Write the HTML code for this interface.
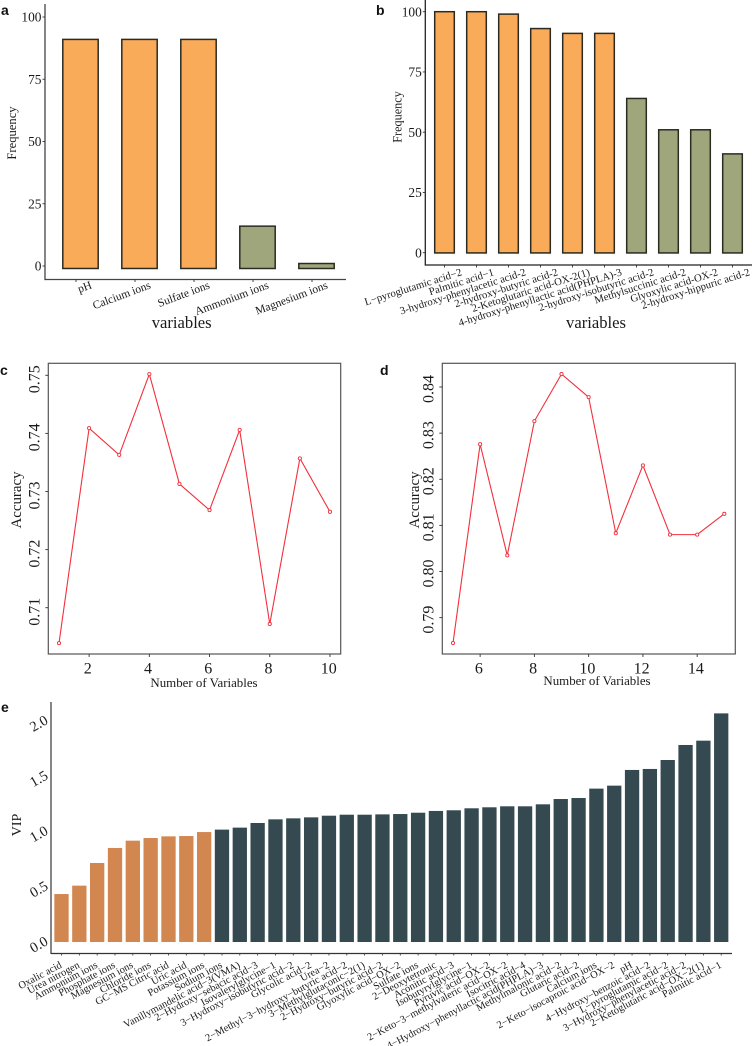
<!DOCTYPE html>
<html lang="en">
<head>
<meta charset="utf-8">
<title>Variable selection charts</title>
<style>
html,body{margin:0;padding:0;background:#fff;}
svg{display:block;}
text{font-family:"Liberation Serif",serif;fill:#1a1a1a;}
.tag{font-family:"Liberation Sans",sans-serif;font-weight:bold;font-size:14px;fill:#111;}
</style>
</head>
<body>
<svg id="chart" xmlns="http://www.w3.org/2000/svg" width="752" height="1046" viewBox="0 0 752 1046">
  <rect x="0" y="0" width="752" height="1046" fill="#fff"/>
  <g id="panel-a">
    <text class="tag" x="1" y="15">a</text>
    <text font-size="12.6" text-anchor="middle" transform="translate(16,133) rotate(-90)">Frequency</text>
    <text font-size="16.6" text-anchor="middle" x="181.7" y="328">variables</text>
  </g>
  <g id="panel-b">
    <text class="tag" x="376" y="15">b</text>
    <text font-size="12.2" text-anchor="middle" transform="translate(401.5,117) rotate(-90)">Frequency</text>
    <text font-size="16.6" text-anchor="middle" x="596" y="328">variables</text>
  </g>
  <g id="panel-c">
    <text class="tag" x="0" y="375">c</text>
    <text font-size="14.9" text-anchor="middle" transform="translate(21,500) rotate(-90)">Accuracy</text>
    <text font-size="12.9" text-anchor="middle" x="204" y="687">Number of Variables</text>
  </g>
  <g id="panel-d">
    <text class="tag" x="380" y="375">d</text>
    <text font-size="14.9" text-anchor="middle" transform="translate(419,500) rotate(-90)">Accuracy</text>
    <text font-size="12.9" text-anchor="middle" x="597" y="685">Number of Variables</text>
  </g>
  <g id="panel-e">
    <text class="tag" x="1" y="712">e</text>
    <text font-size="14" text-anchor="middle" transform="translate(21,825) rotate(-90)">VIP</text>
  </g>
</svg>
<script>
const aCategories = ["pH", "Calcium ions", "Sulfate ions", "Ammonium ions", "Magnesium ions"];
const aValues = [91, 91, 91, 16, 1];
const aTickLabels = [0, 25, 50, 75, 100];
const aHighlightCount = 3;

const bCategories = ["L\u2212pyroglutamic acid\u22122", "Palmitic acid\u22121", "3-hydroxy-phenylacetic acid-2", "2-hydroxy-butyric acid-2", "2-Ketoglutaric acid-OX-2(1)", "4-hydroxy-phenyllactic acid(PHPLA)-3", "2-hydroxy-isobutyric acid-2", "Methylsuccinic acid-2", "Glyoxylic acid-OX-2", "2-hydroxy-hippuric acid-2"];
const bValues = [100, 100, 99, 93, 91, 91, 64, 51, 51, 41];
const bTickLabels = [0, 25, 50, 75, 100];
const bHighlightCount = 6;

const cVariables = [1, 2, 3, 4, 5, 6, 7, 8, 9, 10];
const cAccuracy = [0.7039, 0.7409, 0.7363, 0.7502, 0.7313, 0.7268, 0.7406, 0.7072, 0.7357, 0.7265];
const cXTicks = [2, 4, 6, 8, 10];
const cYTicks = ["0.71", "0.72", "0.73", "0.74", "0.75"];

const dVariables = [5, 6, 7, 8, 9, 10, 11, 12, 13, 14, 15];
const dAccuracy = [0.7845, 0.8276, 0.8035, 0.8326, 0.8428, 0.8378, 0.8083, 0.8230, 0.8080, 0.8080, 0.8125];
const dXTicks = [6, 8, 10, 12, 14];
const dYTicks = ["0.79", "0.80", "0.81", "0.82", "0.83", "0.84"];

const eCategories = ["Oxalic acid", "Urea nitrogen", "Ammonium ions", "Phosphate ions", "Magnesium ions", "Chloride ions", "GC\u2212MS Citric acid", "Uric acid", "Potassium ions", "Sodium ions", "Vanillymandelic acid\u22123(VMA)", "2\u2212Hydroxy\u2212sebacic acid\u22123", "Isovalerylglycine\u22121", "3\u2212Hydroxy\u2212isobutyric acid\u22122", "Glycolic acid\u22122", "Urea\u22122", "2\u2212Methyl\u22123\u2212hydroxy\u2212butyric acid\u22122", "3\u2212Methylglutaconic\u22122(1)", "2\u2212Hydroxy\u2212butyric acid\u22122", "Glyoxylic acid\u2212OX\u22122", "Sulfate ions", "2\u2212Deoxytetronic", "Aconitic acid\u22123", "Isobutyrylglycine\u22121", "Pyruvic acid\u2212OX\u22122", "2\u2212Keto\u22123\u2212methylvaleric acid\u2212OX\u22122", "Isocitric acid\u22124", "4\u2212Hydroxy\u2212phenyllactic acid(PHPLA)\u22123", "Methylmalonic acid\u22122", "Glutaric acid\u22122", "Calcium ions", "2\u2212Keto\u2212isocaproic acid\u2212OX\u22122", "pH", "4\u2212Hydroxy\u2212benzoic acid\u22122", "L\u2212pyroglutamic acid\u22122", "3\u2212Hydroxy\u2212phenylacetic acid\u22122", "2\u2212Ketoglutaric acid\u2212OX\u22122(1)", "Palmitic acid\u22121"];
const eValues = [0.434, 0.51, 0.715, 0.851, 0.917, 0.941, 0.956, 0.959, 0.995, 1.017, 1.035, 1.077, 1.11, 1.119, 1.128, 1.143, 1.152, 1.152, 1.155, 1.158, 1.17, 1.186, 1.192, 1.21, 1.219, 1.228, 1.228, 1.246, 1.294, 1.303, 1.388, 1.415, 1.557, 1.566, 1.647, 1.783, 1.822, 2.069];
const eTickLabels = ["0.0", "0.5", "1.0", "1.5", "2.0"];
const eHighlightCount = 9;

const SVGNS = "http://www.w3.org/2000/svg";
function el(tag, attrs, parent, content) {
  const node = document.createElementNS(SVGNS, tag);
  for (const k in attrs) node.setAttribute(k, attrs[k]);
  if (content !== undefined) node.textContent = content;
  parent.appendChild(node);
  return node;
}

function aX(i) { return 80.5 + 59 * i; }
function aY(v) { return 266 - 2.49 * v; }
function bX(i) { return 444.5 + 32 * i; }
function bY(v) { return 252.7 - 2.41 * v; }
function cX(v) { return 59 + 30.11 * (v - 1); }
function cY(v) { return 607.7 - 5810 * (v - 0.71); }
function dX(v) { return 453 + 27.13 * (v - 5); }
function dY(v) { return 387 - 4613 * (v - 0.84); }
function eX(i) { return 61.5 + 17.83 * i; }
function eY(v) { return 942 - 110.5 * v; }

function drawBarPanel(cfg) {
  const g = document.getElementById(cfg.id);
  const yAxis = el("line", {x1: cfg.axisX, x2: cfg.axisX, y1: cfg.axisTop, y2: cfg.axisY + 0.6, stroke: cfg.axisColor, "stroke-width": 1.3}, g);
  
  
  const xAxis = el("line", {x1: cfg.axisX, x2: cfg.axisEnd, y1: cfg.axisY, y2: cfg.axisY, stroke: cfg.axisColor, "stroke-width": 1.3}, g);
  
  
  cfg.ticks.forEach(function (t) {
    const y = cfg.yf(t);
    const tick = el("line", {x1: cfg.axisX - 2.5, x2: cfg.axisX, y1: y, y2: y, stroke: "#333", "stroke-width": 0.9}, g);
    
    
    const lab = el("text", {x: cfg.axisX - 3.5, y: y + 4.6, "font-size": 13.4, "text-anchor": "end"}, g, String(t));
    
    
  });
  cfg.values.forEach(function (v, i) {
    const cx = cfg.xf(i);
    const top = cfg.yf(v);
    const base = cfg.yf(cfg.baseline);
    const bar = el("rect", {
      x: cx - cfg.barW / 2, y: top, width: cfg.barW, height: Math.max(base - top, 0),
      fill: i < cfg.highlight ? "#FAAB59" : "#A0A67C", stroke: "#2b2b22", "stroke-width": 1.5
    }, g);
    
    
    const tx = cx + cfg.tickShift;
    const tick = el("line", {x1: tx, x2: tx, y1: cfg.axisY, y2: cfg.axisY + 2.5, stroke: "#333", "stroke-width": 0.9}, g);
    
    
    const lx = cx + cfg.labelDx;
    const lab = el("text", {
      "font-size": cfg.labelSize, "text-anchor": "end",
      transform: "translate(" + lx + "," + cfg.labelY + ") rotate(" + cfg.labelAngle + ")"
    }, g, cfg.categories[i]);
    
    
  });
}

function drawLinePanel(cfg) {
  const g = document.getElementById(cfg.id);
  const frame = el("rect", {x: cfg.left, y: 363.3, width: cfg.right - cfg.left, height: 654 - 363.3, fill: "none", stroke: "#555", "stroke-width": 1.2}, g);
  
  
  cfg.xTicks.forEach(function (t) {
    const x = cfg.xf(t);
    const tick = el("line", {x1: x, x2: x, y1: 654, y2: 657, stroke: "#333", "stroke-width": 0.9}, g);
    
    
    const lab = el("text", {x: x - 1.3, y: 673.5, "font-size": 16, "text-anchor": "middle"}, g, String(t));
    
    
  });
  cfg.yTicks.forEach(function (t) {
    const y = cfg.yf(parseFloat(t));
    const tick = el("line", {x1: cfg.left - 3, x2: cfg.left, y1: y, y2: y, stroke: "#333", "stroke-width": 0.9}, g);
    
    
    const lab = el("text", {
      "font-size": 16, "text-anchor": "middle",
      transform: "translate(" + cfg.yLabelX + "," + (y + cfg.yLabelDy) + ") rotate(-90)"
    }, g, t);
    
    
  });
  const pts = cfg.xs.map(function (x, i) { return cfg.xf(x) + "," + cfg.yf(cfg.ys[i]); }).join(" ");
  const line = el("polyline", {points: pts, fill: "none", stroke: "#F2303C", "stroke-width": 1.1}, g);
  
  
  cfg.xs.forEach(function (x, i) {
    const dot = el("circle", {cx: cfg.xf(x), cy: cfg.yf(cfg.ys[i]), r: 1.6, fill: "#fff", stroke: "#F2303C", "stroke-width": 0.9}, g);
    
    
  });
}

function drawVipPanel() {
  const g = document.getElementById("panel-e");
  const yAxis = el("line", {x1: 51, x2: 51, y1: 702, y2: 954, stroke: "#444", "stroke-width": 1.3}, g);
  
  
  const xAxis = el("line", {x1: 51, x2: 732, y1: 953.5, y2: 953.5, stroke: "#333", "stroke-width": 1.3}, g);
  
  
  eTickLabels.forEach(function (t) {
    const y = eY(parseFloat(t));
    const lab = el("text", {
      "font-size": 14.5, "text-anchor": "end",
      transform: "translate(49," + (y + 2) + ") rotate(-30)"
    }, g, t);
    
    
  });
  eValues.forEach(function (v, i) {
    const cx = eX(i);
    const bar = el("rect", {
      x: cx - 7.15, y: eY(v), width: 14.3, height: eY(0) - eY(v),
      fill: i < eHighlightCount ? "#D28650" : "#344A50"
    }, g);
    
    
    const tick = el("line", {x1: cx, x2: cx, y1: 953.5, y2: 955.5, stroke: "#333", "stroke-width": 0.8}, g);
    
    
    const lab = el("text", {
      "font-size": 10.4, "text-anchor": "end",
      transform: "translate(" + (cx + 1) + ",967) rotate(-28)"
    }, g, eCategories[i]);
    
    
  });
}

drawBarPanel({
  id: "panel-a", categories: aCategories, values: aValues, ticks: aTickLabels, highlight: aHighlightCount,
  xf: aX, yf: aY, baseline: -1, barW: 35.4, axisX: 45, axisTop: 4, axisY: 279.5, axisEnd: 346,
  axisColor: "#444", tickShift: -4.5, labelDx: 12, labelY: 288, labelAngle: -20.5, labelSize: 11.5
});
drawBarPanel({
  id: "panel-b", categories: bCategories, values: bValues, ticks: bTickLabels, highlight: bHighlightCount,
  xf: bX, yf: bY, baseline: -0.1, barW: 19.6, axisX: 425.3, axisTop: 0, axisY: 265, axisEnd: 752,
  axisColor: "#222", tickShift: 0, labelDx: 18, labelY: 275, labelAngle: -17.5, labelSize: 10.7
});
drawLinePanel({
  id: "panel-c", xs: cVariables, ys: cAccuracy, xTicks: cXTicks, yTicks: cYTicks,
  xf: cX, yf: cY, left: 48.3, right: 340.7, yLabelX: 39.5, yLabelDy: 4
});
drawLinePanel({
  id: "panel-d", xs: dVariables, ys: dAccuracy, xTicks: dXTicks, yTicks: dYTicks,
  xf: dX, yf: dY, left: 442.3, right: 735.3, yLabelX: 433.3, yLabelDy: 2
});
drawVipPanel();
</script>
</body>
</html>
